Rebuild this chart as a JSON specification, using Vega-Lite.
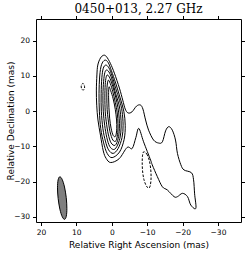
{
  "$schema": "https://vega.github.io/schema/vega-lite/v6.json",
  "autosize": {"type": "none"},
  "padding": {"left": 36, "top": 19, "right": 9, "bottom": 33},
  "width": 205,
  "height": 203,
  "background": "white",
  "title": {"text": "0450+013, 2.27 GHz", "font": "DejaVu Serif", "fontSize": 12, "fontWeight": "normal", "color": "black", "anchor": "middle", "offset": -10, "baseline": "alphabetic"},
  "config": {
    "view": {"stroke": "black", "strokeWidth": 1},
    "axis": {"labelFont": "DejaVu Sans", "labelFontSize": 7.5, "labelColor": "black", "titleFont": "DejaVu Sans", "titleFontSize": 9, "titleFontWeight": "normal", "titleColor": "black", "tickColor": "black", "tickSize": 3.5, "domain": false, "grid": false, "labelPadding": 3}
  },
  "datasets": {
    "d": [
      {"c": "beam", "t": "beam", "x": 14.67, "y": -18.65},
      {"c": "beam", "t": "beam", "x": 15.15, "y": -19.52},
      {"c": "beam", "t": "beam", "x": 15.33, "y": -21.78},
      {"c": "beam", "t": "beam", "x": 15.14, "y": -24.83},
      {"c": "beam", "t": "beam", "x": 14.66, "y": -27.84},
      {"c": "beam", "t": "beam", "x": 13.99, "y": -30.0},
      {"c": "beam", "t": "beam", "x": 13.33, "y": -30.75},
      {"c": "beam", "t": "beam", "x": 12.85, "y": -29.88},
      {"c": "beam", "t": "beam", "x": 12.68, "y": -27.62},
      {"c": "beam", "t": "beam", "x": 12.86, "y": -24.57},
      {"c": "beam", "t": "beam", "x": 13.35, "y": -21.56},
      {"c": "beam", "t": "beam", "x": 14.01, "y": -19.4},

      {"c": "c1", "t": "pos", "x": 2.3, "y": 15.9},
      {"c": "c1", "t": "pos", "x": 1.5, "y": 15.5},
      {"c": "c1", "t": "pos", "x": 0.4, "y": 13.6},
      {"c": "c1", "t": "pos", "x": -0.74, "y": 10.8},
      {"c": "c1", "t": "pos", "x": -2.16, "y": 6.56},
      {"c": "c1", "t": "pos", "x": -3.1, "y": 3.15},
      {"c": "c1", "t": "pos", "x": -3.8, "y": 0.6},
      {"c": "c1", "t": "pos", "x": -4.6, "y": -0.5},
      {"c": "c1", "t": "pos", "x": -5.7, "y": -0.2},
      {"c": "c1", "t": "pos", "x": -7.0, "y": 1.45},
      {"c": "c1", "t": "pos", "x": -8.1, "y": 1.75},
      {"c": "c1", "t": "pos", "x": -8.8, "y": 0.6},
      {"c": "c1", "t": "pos", "x": -9.55, "y": -2.5},
      {"c": "c1", "t": "pos", "x": -10.4, "y": -5.4},
      {"c": "c1", "t": "pos", "x": -11.8, "y": -8.2},
      {"c": "c1", "t": "pos", "x": -13.24, "y": -9.06},
      {"c": "c1", "t": "pos", "x": -14.3, "y": -8.7},
      {"c": "c1", "t": "pos", "x": -15.2, "y": -5.6},
      {"c": "c1", "t": "pos", "x": -16.1, "y": -4.4},
      {"c": "c1", "t": "pos", "x": -17.1, "y": -5.4},
      {"c": "c1", "t": "pos", "x": -18.0, "y": -8.2},
      {"c": "c1", "t": "pos", "x": -18.55, "y": -12.0},
      {"c": "c1", "t": "pos", "x": -19.5, "y": -15.2},
      {"c": "c1", "t": "pos", "x": -20.4, "y": -16.7},
      {"c": "c1", "t": "pos", "x": -22.5, "y": -17.5},
      {"c": "c1", "t": "pos", "x": -23.1, "y": -19.5},
      {"c": "c1", "t": "pos", "x": -23.4, "y": -23.5},
      {"c": "c1", "t": "pos", "x": -23.75, "y": -27.6},
      {"c": "c1", "t": "pos", "x": -22.33, "y": -26.7},
      {"c": "c1", "t": "pos", "x": -21.4, "y": -24.3},
      {"c": "c1", "t": "pos", "x": -19.97, "y": -23.35},
      {"c": "c1", "t": "pos", "x": -18.55, "y": -24.3},
      {"c": "c1", "t": "pos", "x": -17.6, "y": -24.3},
      {"c": "c1", "t": "pos", "x": -15.7, "y": -22.4},
      {"c": "c1", "t": "pos", "x": -14.3, "y": -21.5},
      {"c": "c1", "t": "pos", "x": -12.87, "y": -18.6},
      {"c": "c1", "t": "pos", "x": -11.45, "y": -15.3},
      {"c": "c1", "t": "pos", "x": -10.97, "y": -13.9},
      {"c": "c1", "t": "pos", "x": -8.98, "y": -8.7},
      {"c": "c1", "t": "pos", "x": -7.64, "y": -4.9},
      {"c": "c1", "t": "pos", "x": -6.8, "y": -7.5},
      {"c": "c1", "t": "pos", "x": -5.77, "y": -10.6},
      {"c": "c1", "t": "pos", "x": -4.35, "y": -10.3},
      {"c": "c1", "t": "pos", "x": -2.1, "y": -13.5},
      {"c": "c1", "t": "pos", "x": 0.3, "y": -14.6},
      {"c": "c1", "t": "pos", "x": 1.6, "y": -13.4},
      {"c": "c1", "t": "pos", "x": 2.4, "y": -11.3},
      {"c": "c1", "t": "pos", "x": 3.2, "y": -6.8},
      {"c": "c1", "t": "pos", "x": 3.9, "y": -2.5},
      {"c": "c1", "t": "pos", "x": 4.25, "y": 1.7},
      {"c": "c1", "t": "pos", "x": 4.35, "y": 6.0},
      {"c": "c1", "t": "pos", "x": 4.2, "y": 10.3},
      {"c": "c1", "t": "pos", "x": 3.95, "y": 13.1},
      {"c": "c1", "t": "pos", "x": 3.2, "y": 15.1},

      {"c": "c2", "t": "pos", "x": 1.96, "y": 14.5},
      {"c": "c2", "t": "pos", "x": 1.0, "y": 13.8},
      {"c": "c2", "t": "pos", "x": 0.1, "y": 11.5},
      {"c": "c2", "t": "pos", "x": -1.1, "y": 8.0},
      {"c": "c2", "t": "pos", "x": -2.3, "y": 4.0},
      {"c": "c2", "t": "pos", "x": -3.4, "y": 0.0},
      {"c": "c2", "t": "pos", "x": -3.8, "y": -4.0},
      {"c": "c2", "t": "pos", "x": -3.5, "y": -8.0},
      {"c": "c2", "t": "pos", "x": -2.2, "y": -11.6},
      {"c": "c2", "t": "pos", "x": -0.1, "y": -13.2},
      {"c": "c2", "t": "pos", "x": 1.3, "y": -12.0},
      {"c": "c2", "t": "pos", "x": 2.3, "y": -9.0},
      {"c": "c2", "t": "pos", "x": 3.1, "y": -5.0},
      {"c": "c2", "t": "pos", "x": 3.5, "y": 0.0},
      {"c": "c2", "t": "pos", "x": 3.6, "y": 5.0},
      {"c": "c2", "t": "pos", "x": 3.4, "y": 10.0},
      {"c": "c2", "t": "pos", "x": 2.9, "y": 13.2},

      {"c": "c3", "t": "pos", "x": 1.68, "y": 13.1},
      {"c": "c3", "t": "pos", "x": 0.8, "y": 12.3},
      {"c": "c3", "t": "pos", "x": -0.1, "y": 10.0},
      {"c": "c3", "t": "pos", "x": -1.1, "y": 6.5},
      {"c": "c3", "t": "pos", "x": -2.2, "y": 3.0},
      {"c": "c3", "t": "pos", "x": -2.9, "y": 0.0},
      {"c": "c3", "t": "pos", "x": -3.2, "y": -4.0},
      {"c": "c3", "t": "pos", "x": -2.9, "y": -7.5},
      {"c": "c3", "t": "pos", "x": -1.8, "y": -10.6},
      {"c": "c3", "t": "pos", "x": -0.4, "y": -12.0},
      {"c": "c3", "t": "pos", "x": 0.9, "y": -11.0},
      {"c": "c3", "t": "pos", "x": 1.8, "y": -8.5},
      {"c": "c3", "t": "pos", "x": 2.5, "y": -5.0},
      {"c": "c3", "t": "pos", "x": 2.95, "y": 0.0},
      {"c": "c3", "t": "pos", "x": 3.0, "y": 5.0},
      {"c": "c3", "t": "pos", "x": 2.8, "y": 9.5},
      {"c": "c3", "t": "pos", "x": 2.4, "y": 12.2},

      {"c": "c4", "t": "pos", "x": 1.39, "y": 11.7},
      {"c": "c4", "t": "pos", "x": 0.6, "y": 10.8},
      {"c": "c4", "t": "pos", "x": -0.2, "y": 8.5},
      {"c": "c4", "t": "pos", "x": -1.1, "y": 5.0},
      {"c": "c4", "t": "pos", "x": -2.0, "y": 2.0},
      {"c": "c4", "t": "pos", "x": -2.5, "y": -1.0},
      {"c": "c4", "t": "pos", "x": -2.65, "y": -4.5},
      {"c": "c4", "t": "pos", "x": -2.3, "y": -7.7},
      {"c": "c4", "t": "pos", "x": -1.4, "y": -10.1},
      {"c": "c4", "t": "pos", "x": -0.5, "y": -10.9},
      {"c": "c4", "t": "pos", "x": 0.6, "y": -10.0},
      {"c": "c4", "t": "pos", "x": 1.4, "y": -7.5},
      {"c": "c4", "t": "pos", "x": 2.0, "y": -4.0},
      {"c": "c4", "t": "pos", "x": 2.4, "y": 0.0},
      {"c": "c4", "t": "pos", "x": 2.5, "y": 4.5},
      {"c": "c4", "t": "pos", "x": 2.3, "y": 8.5},
      {"c": "c4", "t": "pos", "x": 1.95, "y": 11.0},

      {"c": "c5", "t": "pos", "x": 1.2, "y": 10.3},
      {"c": "c5", "t": "pos", "x": 0.5, "y": 9.3},
      {"c": "c5", "t": "pos", "x": -0.3, "y": 7.0},
      {"c": "c5", "t": "pos", "x": -1.1, "y": 4.0},
      {"c": "c5", "t": "pos", "x": -1.75, "y": 1.0},
      {"c": "c5", "t": "pos", "x": -2.1, "y": -2.0},
      {"c": "c5", "t": "pos", "x": -2.15, "y": -5.0},
      {"c": "c5", "t": "pos", "x": -1.8, "y": -7.8},
      {"c": "c5", "t": "pos", "x": -0.95, "y": -9.7},
      {"c": "c5", "t": "pos", "x": 0.2, "y": -9.0},
      {"c": "c5", "t": "pos", "x": 1.0, "y": -6.5},
      {"c": "c5", "t": "pos", "x": 1.55, "y": -3.0},
      {"c": "c5", "t": "pos", "x": 1.85, "y": 0.0},
      {"c": "c5", "t": "pos", "x": 1.95, "y": 4.0},
      {"c": "c5", "t": "pos", "x": 1.85, "y": 7.5},
      {"c": "c5", "t": "pos", "x": 1.6, "y": 9.6},

      {"c": "c6", "t": "pos", "x": 1.0, "y": 8.8},
      {"c": "c6", "t": "pos", "x": 0.4, "y": 7.8},
      {"c": "c6", "t": "pos", "x": -0.3, "y": 5.5},
      {"c": "c6", "t": "pos", "x": -1.0, "y": 2.5},
      {"c": "c6", "t": "pos", "x": -1.55, "y": -0.5},
      {"c": "c6", "t": "pos", "x": -1.75, "y": -3.5},
      {"c": "c6", "t": "pos", "x": -1.7, "y": -6.0},
      {"c": "c6", "t": "pos", "x": -1.2, "y": -8.4},
      {"c": "c6", "t": "pos", "x": -0.3, "y": -8.2},
      {"c": "c6", "t": "pos", "x": 0.5, "y": -5.8},
      {"c": "c6", "t": "pos", "x": 1.0, "y": -2.5},
      {"c": "c6", "t": "pos", "x": 1.3, "y": 0.5},
      {"c": "c6", "t": "pos", "x": 1.4, "y": 4.0},
      {"c": "c6", "t": "pos", "x": 1.35, "y": 6.8},

      {"c": "c7", "t": "pos", "x": 0.8, "y": 6.9},
      {"c": "c7", "t": "pos", "x": 0.3, "y": 5.8},
      {"c": "c7", "t": "pos", "x": -0.4, "y": 3.5},
      {"c": "c7", "t": "pos", "x": -1.0, "y": 0.5},
      {"c": "c7", "t": "pos", "x": -1.35, "y": -2.5},
      {"c": "c7", "t": "pos", "x": -1.4, "y": -5.0},
      {"c": "c7", "t": "pos", "x": -1.1, "y": -7.1},
      {"c": "c7", "t": "pos", "x": -0.4, "y": -6.9},
      {"c": "c7", "t": "pos", "x": 0.2, "y": -4.8},
      {"c": "c7", "t": "pos", "x": 0.6, "y": -2.0},
      {"c": "c7", "t": "pos", "x": 0.8, "y": 1.0},
      {"c": "c7", "t": "pos", "x": 0.9, "y": 4.0},

      {"c": "n1", "t": "neg", "x": 8.15, "y": 7.9},
      {"c": "n1", "t": "neg", "x": 7.75, "y": 7.3},
      {"c": "n1", "t": "neg", "x": 7.7, "y": 6.5},
      {"c": "n1", "t": "neg", "x": 8.1, "y": 5.95},
      {"c": "n1", "t": "neg", "x": 8.55, "y": 6.5},
      {"c": "n1", "t": "neg", "x": 8.6, "y": 7.3},

      {"c": "n2", "t": "neg", "x": -9.07, "y": -11.5},
      {"c": "n2", "t": "neg", "x": -9.9, "y": -12.2},
      {"c": "n2", "t": "neg", "x": -10.6, "y": -14.0},
      {"c": "n2", "t": "neg", "x": -11.0, "y": -16.5},
      {"c": "n2", "t": "neg", "x": -11.1, "y": -19.0},
      {"c": "n2", "t": "neg", "x": -10.9, "y": -21.0},
      {"c": "n2", "t": "neg", "x": -10.5, "y": -21.85},
      {"c": "n2", "t": "neg", "x": -9.8, "y": -21.3},
      {"c": "n2", "t": "neg", "x": -9.1, "y": -19.5},
      {"c": "n2", "t": "neg", "x": -8.7, "y": -17.0},
      {"c": "n2", "t": "neg", "x": -8.6, "y": -14.5},
      {"c": "n2", "t": "neg", "x": -8.7, "y": -12.5}
    ]
  },
  "data": {"name": "d"},
  "resolve": {"axis": {"x": "independent", "y": "independent"}},
  "layer": [
    {
      "transform": [{"filter": "datum.t === 'beam'"}],
      "mark": {"type": "line", "interpolate": "cardinal-closed", "fill": "#7f7f7f", "stroke": "black", "strokeWidth": 1},
      "encoding": {
        "x": {"field": "x", "type": "quantitative", "scale": {"domain": [21.4, -36.5], "nice": false, "zero": false},
              "axis": {"orient": "bottom", "values": [20, 10, 0, -10, -20, -30], "title": "Relative Right Ascension (mas)", "titlePadding": 4}},
        "y": {"field": "y", "type": "quantitative", "scale": {"domain": [-31.5, 26.2], "nice": false, "zero": false},
              "axis": {"orient": "left", "values": [20, 10, 0, -10, -20, -30], "title": "Relative Declination (mas)", "titlePadding": -2}},
        "detail": {"field": "c"},
        "order": {"value": null}
      }
    },
    {
      "transform": [{"filter": "datum.t === 'pos'"}],
      "mark": {"type": "line", "interpolate": "cardinal-closed", "stroke": "black", "strokeWidth": 1},
      "encoding": {
        "x": {"field": "x", "type": "quantitative",
              "axis": {"orient": "top", "values": [20, 10, 0, -10, -20, -30], "labels": false, "title": null}},
        "y": {"field": "y", "type": "quantitative",
              "axis": {"orient": "right", "values": [20, 10, 0, -10, -20, -30], "labels": false, "title": null}},
        "detail": {"field": "c"},
        "order": {"value": null}
      }
    },
    {
      "transform": [{"filter": "datum.t === 'neg'"}],
      "mark": {"type": "line", "interpolate": "cardinal-closed", "stroke": "black", "strokeWidth": 1, "strokeDash": [2.5, 1.5]},
      "encoding": {
        "x": {"field": "x", "type": "quantitative", "axis": null},
        "y": {"field": "y", "type": "quantitative", "axis": null},
        "detail": {"field": "c"},
        "order": {"value": null}
      }
    }
  ]
}
